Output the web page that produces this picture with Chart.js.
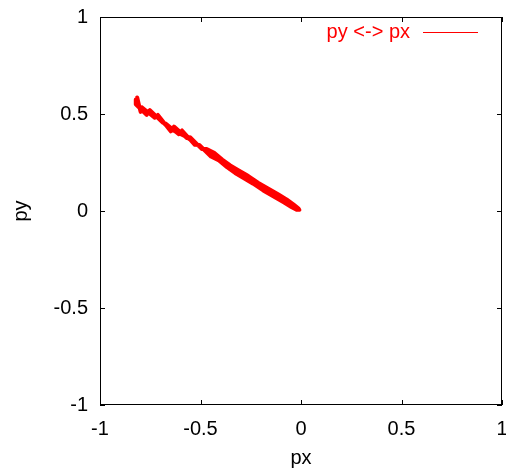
<!DOCTYPE html>
<html>
<head>
<meta charset="utf-8">
<script src="https://cdn.jsdelivr.net/npm/chart.js@4/dist/chart.umd.min.js"></script>
<style>
  html, body { margin: 0; padding: 0; background: #fff; overflow: hidden; }
  #wrap { width: 506px; height: 474px; }
  canvas { display: block; }
</style>
</head>
<body>
<div id="wrap"><canvas id="plot"></canvas></div>
<script>
// trajectory samples (three overlapping passes)
const px = [
  -0.815, -0.798, -0.792, -0.728, -0.712, -0.648, -0.632, -0.568, -0.552, -0.494, -0.472,
  -0.432, -0.392, -0.352, -0.312, -0.262, -0.212, -0.162, -0.112, -0.072, -0.038, -0.012,
  -0.008, -0.022, -0.048, -0.088, -0.138, -0.188, -0.238, -0.288, -0.328, -0.368, -0.408,
  -0.448, -0.506, -0.528, -0.592, -0.608, -0.672, -0.688, -0.752, -0.768, -0.822, -0.822,
  -0.812, -0.790, -0.750, -0.710, -0.665, -0.625, -0.585, -0.540, -0.500, -0.455, -0.430,
  -0.400, -0.370, -0.330, -0.290, -0.250, -0.200, -0.150, -0.100, -0.060, -0.030, -0.012
];
const py = [
  0.585, 0.511, 0.535, 0.481, 0.495, 0.411, 0.435, 0.376, 0.380, 0.320, 0.320,
  0.300, 0.265, 0.235, 0.210, 0.180, 0.145, 0.115, 0.085, 0.060, 0.034, 0.012,
  0.006, 0.006, 0.021, 0.046, 0.076, 0.106, 0.141, 0.171, 0.196, 0.226, 0.261,
  0.281, 0.340, 0.341, 0.415, 0.396, 0.450, 0.456, 0.520, 0.496, 0.550, 0.575,
  0.550, 0.520, 0.505, 0.480, 0.435, 0.410, 0.390, 0.360, 0.330, 0.300, 0.275,
  0.270, 0.240, 0.215, 0.190, 0.160, 0.125, 0.095, 0.065, 0.040, 0.020, 0.010
];
const tickValues = [-1, -0.5, 0, 0.5, 1];
const tickLabels = ["-1", "-0.5", "0", "0.5", "1"];

const points = px.map((x, i) => ({ x: x, y: py[i] }));
const labelFor = (v) => {
  const i = tickValues.findIndex((t) => Math.abs(t - v) < 1e-9);
  return i >= 0 ? tickLabels[i] : "";
};

// gnuplot style frame with inward ticks on all four sides, plus the key
const framePlugin = {
  id: "frame",
  afterDraw(chart) {
    const { ctx, chartArea: a, scales } = chart;
    ctx.save();
    ctx.strokeStyle = "#000";
    ctx.lineWidth = 1;
    ctx.strokeRect(a.left + 0.5, a.top + 0.5, a.right - a.left - 1, a.bottom - a.top - 1);
    ctx.beginPath();
    tickValues.forEach((v) => {
      const x = Math.round(scales.x.getPixelForValue(v)) + 0.5;
      ctx.moveTo(x, a.bottom); ctx.lineTo(x, a.bottom - 5);
      ctx.moveTo(x, a.top); ctx.lineTo(x, a.top + 5);
      const y = Math.round(scales.y.getPixelForValue(v)) + 0.5;
      ctx.moveTo(a.left, y); ctx.lineTo(a.left + 5, y);
      ctx.moveTo(a.right, y); ctx.lineTo(a.right - 5, y);
    });
    ctx.stroke();

    const ds = chart.data.datasets[0];
    ctx.font = "20px 'Liberation Sans', Arial, sans-serif";
    ctx.fillStyle = ds.borderColor;
    ctx.textAlign = "right";
    ctx.textBaseline = "alphabetic";
    ctx.fillText(ds.label, 410, 38);
    ctx.strokeStyle = ds.borderColor;
    ctx.lineWidth = 1;
    ctx.beginPath();
    ctx.moveTo(423, 32.5);
    ctx.lineTo(478, 32.5);
    ctx.stroke();
    ctx.restore();
  },
};

const font = { family: "'Liberation Sans', Arial, sans-serif", size: 20 };

new Chart(document.getElementById("plot"), {
  type: "scatter",
  data: {
    datasets: [
      {
        label: "py <-> px",
        data: points,
        showLine: true,
        borderColor: "#ff0000",
        backgroundColor: "#ff0000",
        borderWidth: 4,
        borderJoinStyle: "round",
        borderCapStyle: "round",
        pointRadius: 0,
        tension: 0,
      },
    ],
  },
  options: {
    responsive: true,
    maintainAspectRatio: false,
    animation: false,
    layout: { padding: { top: 17, right: 4, left: 0, bottom: 0 } },
    plugins: { legend: { display: false }, tooltip: { enabled: false } },
    scales: {
      x: {
        type: "linear",
        min: -1,
        max: 1,
        afterBuildTicks: (s) => { s.ticks = tickValues.map((v) => ({ value: v })); },
        afterFit: (s) => { s.height = 69; s.paddingLeft = 0; s.paddingRight = 0; },
        grid: { display: false, drawTicks: false },
        border: { display: false },
        ticks: { color: "#000", font, padding: 12, maxRotation: 0, callback: labelFor },
        title: { display: true, text: "px", color: "#000", font, padding: { top: 0, bottom: 4 } },
      },
      y: {
        type: "linear",
        min: -1,
        max: 1,
        afterBuildTicks: (s) => { s.ticks = tickValues.map((v) => ({ value: v })); },
        afterFit: (s) => { s.width = 100; s.paddingTop = 0; s.paddingBottom = 0; },
        grid: { display: false, drawTicks: false },
        border: { display: false },
        ticks: { color: "#000", font, padding: 12, callback: labelFor },
        title: { display: true, text: "py", color: "#000", font, padding: { top: 9, bottom: 0 } },
      },
    },
  },
  plugins: [framePlugin],
});
</script>
</body>
</html>
